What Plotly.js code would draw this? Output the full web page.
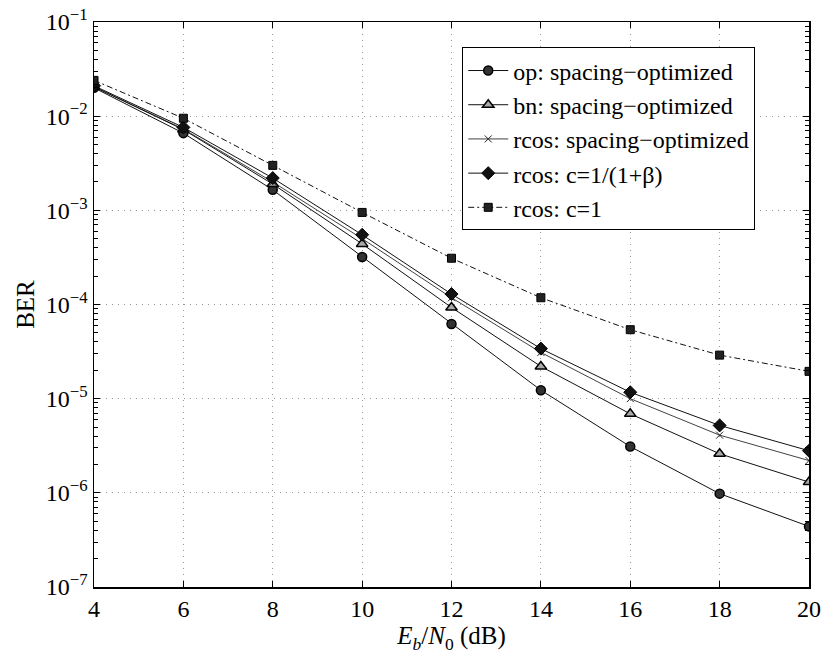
<!DOCTYPE html>
<html>
<head>
<meta charset="utf-8">
<script src="https://cdn.plot.ly/plotly-3.0.1.min.js"></script>
<style>html,body{margin:0;padding:0;background:#fff;}#chart{width:822px;height:655px;}</style>
</head>
<body>
<div id="chart"></div>
<script>
const ebn0 = [4, 6, 8, 10, 12, 14, 16, 18, 20];
const opSpacing   = [2.0e-2, 6.6e-3, 1.65e-3, 3.2e-4, 6.2e-5, 1.23e-5, 3.1e-6, 9.8e-7, 4.4e-7];
const bnSpacing   = [2.05e-2, 7.2e-3, 1.9e-3, 4.4e-4, 9.3e-5, 2.2e-5, 6.9e-6, 2.6e-6, 1.3e-6];
const rcosSpacing = [2.05e-2, 7.3e-3, 2.0e-3, 5.0e-4, 1.18e-4, 3.1e-5, 1.0e-5, 4.1e-6, 2.2e-6];
const rcosBeta    = [2.1e-2, 7.6e-3, 2.2e-3, 5.5e-4, 1.29e-4, 3.4e-5, 1.17e-5, 5.2e-6, 2.8e-6];
const rcosC1      = [2.4e-2, 9.5e-3, 3.0e-3, 9.5e-4, 3.1e-4, 1.18e-4, 5.4e-5, 2.9e-5, 1.95e-5];
const seriesNames = ['op: spacing\u2212optimized', 'bn: spacing\u2212optimized', 'rcos: spacing\u2212optimized', 'rcos: c=1/(1+\u03b2)', 'rcos: c=1'];
const xTicks = [4, 6, 8, 10, 12, 14, 16, 18, 20];
const yTickVals = [1e-7, 1e-6, 1e-5, 1e-4, 1e-3, 1e-2, 1e-1];
const yTickText = ['10<sup>\u22127</sup>', '10<sup>\u22126</sup>', '10<sup>\u22125</sup>', '10<sup>\u22124</sup>', '10<sup>\u22123</sup>', '10<sup>\u22122</sup>', '10<sup>\u22121</sup>'];
const minorMantissas = [2, 3, 4, 5, 6, 7, 8, 9];
const minorTickVals = [];
yTickVals.slice(0, -1).forEach(d => minorMantissas.forEach(m => minorTickVals.push(m * d)));

const serif = "'Liberation Serif', 'Times New Roman', Times, serif";
function tr(y, name, marker, dash, lw) {
  return {x: ebn0, y: y, name: name, type: 'scatter', mode: 'lines+markers',
    line: {color: '#111', width: lw || 1, dash: dash || 'solid'}, marker: marker};
}
const data = [
  tr(opSpacing, seriesNames[0], {symbol: 'circle', size: 9, color: '#333', line: {color: '#000', width: 1.5}}),
  tr(bnSpacing, seriesNames[1], {symbol: 'triangle-up', size: 10, color: '#aaa', line: {color: '#000', width: 1.5}}),
  tr(rcosSpacing, seriesNames[2], {symbol: 'x-thin', size: 7, color: '#000', line: {color: '#222', width: 1}}, 'solid', 0.8),
  tr(rcosBeta, seriesNames[3], {symbol: 'diamond', size: 10, color: '#111', line: {color: '#000', width: 1}}),
  tr(rcosC1, seriesNames[4], {symbol: 'square', size: 8, color: '#222', line: {color: '#000', width: 1}}, '6px,3px,2px,3px')
];
const layout = {
  width: 822, height: 655,
  margin: {l: 94, r: 13, t: 22, b: 68},
  paper_bgcolor: '#fff', plot_bgcolor: '#fff',
  font: {family: serif, size: 24, color: '#000'},
  showlegend: true,
  legend: {x: 0.515, y: 0.955, xanchor: 'left', yanchor: 'top', bgcolor: '#fff',
    bordercolor: '#000', borderwidth: 1, font: {family: serif, size: 24, color: '#000'},
    tracegroupgap: 0, itemwidth: 40},
  xaxis: {range: [4, 20], tickvals: xTicks, ticktext: xTicks.map(String),
    ticks: 'inside', ticklen: 6, tickcolor: '#000', mirror: 'ticks', showline: true,
    linecolor: '#000', linewidth: 1.5, showgrid: true, gridcolor: '#999', griddash: '1px,5px',
    gridwidth: 1, zeroline: false, tickfont: {family: serif, size: 24},
    title: {text: '<i>E</i><sub><i>b</i></sub>/<i>N</i><sub>0</sub> (dB)', font: {family: serif, size: 25}, standoff: 0}},
  yaxis: {type: 'log', range: [-7, -1], tickvals: yTickVals, ticktext: yTickText,
    ticks: 'inside', ticklen: 6, tickcolor: '#000', mirror: 'ticks', showline: true,
    linecolor: '#000', linewidth: 1.5, showgrid: true, gridcolor: '#999', griddash: '1px,5px',
    gridwidth: 1, zeroline: false, tickfont: {family: serif, size: 24},
    minor: {tickmode: 'array', tickvals: minorTickVals, ticks: 'inside', ticklen: 4, tickcolor: '#000', showgrid: false},
    title: {text: 'BER', font: {family: serif, size: 25}, standoff: 4}}
};
Plotly.newPlot('chart', data, layout, {displayModeBar: false, staticPlot: true});
</script>
</body>
</html>
